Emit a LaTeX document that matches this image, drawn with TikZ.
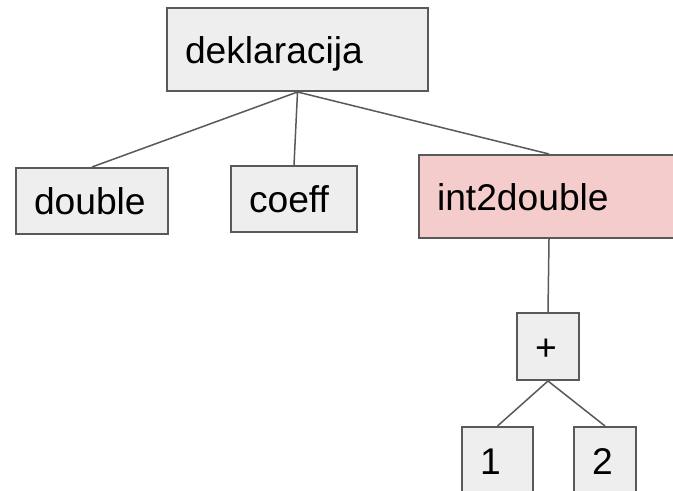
\documentclass[tikz,border=0pt]{standalone}
\usepackage{fontspec}
\setmainfont{Liberation Sans}
\definecolor{boxgray}{HTML}{EEEEEE}
\definecolor{boxred}{HTML}{F4CCCC}
\definecolor{linegray}{HTML}{595959}
\begin{document}
\begin{tikzpicture}[x=0.5pt,y=-0.5pt,
  box/.style={draw=linegray, fill=boxgray, line width=1pt, inner xsep=9pt, inner ysep=0pt,
    text height=14pt, text depth=0pt, align=left, font=\fontsize{18.6}{21}\selectfont},
  edge/.style={draw=linegray, line width=0.75pt}]
\useasboundingbox [fill=white] (0,0) rectangle (673,491) ;
\node [box, text width=112.5pt, minimum height=41.5pt] (dekl) at (297.5,49.5) {deklaracija} ;
\node [box, text width=58pt, minimum height=33pt] (dbl) at (92,201) {double} ;
\node [box, text width=45pt, minimum height=33pt] (coeff) at (294,199) {coeff} ;
\node [box, fill=boxred, text width=112pt, minimum height=41.5pt] (conv) at (549,196.5) {int2double} ;
\node [box, text width=13pt, minimum height=33.5pt] (plus) at (548,346.5) {+} ;
\node [box, text width=17.5pt, minimum height=33.5pt] (one) at (497.5,460.5) {1} ;
\node [box, text width=13pt, minimum height=33.5pt] (two) at (605,460.5) {2} ;
\draw [edge] (dekl.south) -- (dbl.north) (dekl.south) -- (coeff.north) (dekl.south) -- (conv.north) ;
\draw [edge] (conv.south) -- (plus.north) ;
\draw [edge] (plus.south) -- (one.north) (plus.south) -- (two.north) ;
\end{tikzpicture}
\end{document}
